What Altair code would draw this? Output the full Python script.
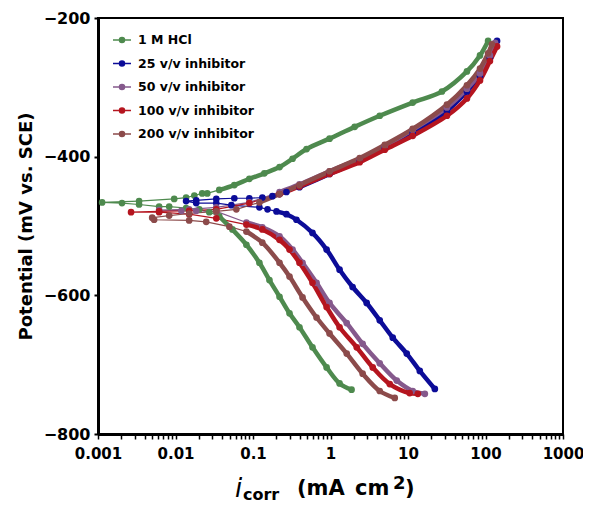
import altair as alt
import pandas as pd

series = ["1 M HCl", "25 v/v inhibitor", "50 v/v inhibitor", "100 v/v inhibitor", "200 v/v inhibitor"]
colors = ["#4E8A4E", "#0C0C98", "#85598C", "#B5151F", "#8C4B4B"]

x_major = [0.001, 0.01, 0.1, 1, 10, 100, 1000]
y_ticks = [-800, -600, -400, -200]

# cathodic branches: from the far end up to Ecorr (last value = Ecorr)
hcl_cat_i = [1.87, 1.31, 0.891, 0.586, 0.398, 0.296, 0.220, 0.163, 0.121, 0.0822, 0.0542, 0.0367, 0.0273, 0.0203, 0.0137, 0.00829, 0.00615, 0.00339, 0.00204, 0.00113]
hcl_cat_E = [-736, -727, -704, -675, -646, -626, -602, -578, -553, -527, -505, -486, -480, -476, -474, -472, -472, -469, -467, -466]
hcl_an_i = [0.00339, 0.00962, 0.0137, 0.0175, 0.0221, 0.0257, 0.0367, 0.0574, 0.0897, 0.140, 0.220, 0.324, 0.491, 0.972, 2.05, 4.32, 11.5, 27.4, 57.6, 84.9, 108]
hcl_an_E = [-464, -461, -459, -456, -453, -453, -448, -441, -432, -424, -415, -403, -389, -374, -357, -341, -322, -306, -277, -254, -233]

inh25_cat_i = [22.2, 14.2, 9.64, 6.36, 4.32, 2.93, 1.93, 1.31, 0.891, 0.586, 0.364, 0.270, 0.201, 0.154, 0.121, 0.0526, 0.0336, 0.0185, 0.0137]
inh25_cat_E = [-735, -709, -684, -661, -636, -611, -588, -563, -534, -510, -491, -483, -479, -476, -473, -470, -467, -467, -464]
inh25_an_i = [0.0185, 0.0336, 0.0574, 0.0897, 0.132, 0.178, 0.220, 0.270, 0.398, 0.972, 2.38, 5.01, 11.5, 31.8, 57.6, 84.9, 114, 141]
inh25_an_E = [-463, -461, -460, -460, -459, -457, -454, -451, -444, -425, -406, -387, -366, -334, -306, -284, -258, -233]

inh50_cat_i = [16.5, 11.5, 7.16, 4.32, 2.60, 1.62, 0.972, 0.661, 0.436, 0.324, 0.220, 0.132, 0.0822, 0.0336, 0.0185, 0.0119, 0.00615]
inh50_cat_E = [-742, -738, -723, -698, -670, -640, -611, -582, -553, -534, -515, -502, -495, -479, -478, -478, -477]
inh50_an_i = [0.0150, 0.0336, 0.0897, 0.220, 0.398, 0.972, 2.38, 5.01, 11.5, 31.8, 57.6, 84.9, 114, 133]
inh50_an_E = [-476, -473, -466, -451, -440, -421, -403, -385, -361, -329, -302, -280, -254, -236]

inh100_cat_i = [13.4, 10.5, 5.82, 3.51, 2.18, 1.31, 0.891, 0.586, 0.398, 0.296, 0.220, 0.132, 0.0822, 0.0336, 0.0150, 0.00615, 0.00267]
inh100_cat_E = [-742, -741, -728, -704, -675, -646, -617, -582, -553, -534, -520, -505, -498, -489, -483, -480, -480]
inh100_an_i = [0.00615, 0.0150, 0.0336, 0.0897, 0.220, 0.398, 0.972, 2.38, 5.01, 11.5, 31.8, 57.6, 84.9, 114, 141]
inh100_an_E = [-479, -478, -476, -467, -454, -443, -425, -408, -390, -370, -341, -316, -290, -262, -241]

inh200_cat_i = [6.75, 4.32, 2.60, 1.62, 0.972, 0.661, 0.436, 0.296, 0.220, 0.132, 0.0822, 0.0496, 0.0249, 0.0150, 0.00530, 0.00500]
inh200_cat_E = [-748, -738, -713, -684, -655, -632, -603, -573, -553, -524, -508, -501, -494, -492, -491, -488]
inh200_an_i = [0.00829, 0.0150, 0.0336, 0.0610, 0.121, 0.220, 0.398, 0.972, 2.38, 5.01, 11.5, 31.8, 57.6, 84.9, 108, 121]
inh200_an_E = [-485, -482, -479, -476, -466, -454, -441, -421, -402, -383, -360, -325, -297, -273, -251, -238]

branches = [
    (hcl_cat_i, hcl_cat_E, hcl_an_i, hcl_an_E),
    (inh25_cat_i, inh25_cat_E, inh25_an_i, inh25_an_E),
    (inh50_cat_i, inh50_cat_E, inh50_an_i, inh50_an_E),
    (inh100_cat_i, inh100_cat_E, inh100_an_i, inh100_an_E),
    (inh200_cat_i, inh200_cat_E, inh200_an_i, inh200_an_E),
]

rows = []
for name, (ci, cE, ai, aE) in zip(series, branches):
    ecorr = cE[-1]
    k = 0
    for i, e in zip(ci, cE):
        rows.append(dict(series=name, i=i, E=e, order=k, branch=name + "_c", thick=abs(e - ecorr) >= 15))
        k += 1
    for i, e in zip(ai, aE):
        rows.append(dict(series=name, i=i, E=e, order=k, branch=name + "_a", thick=abs(e - ecorr) >= 15))
        k += 1
df = pd.DataFrame(rows)

minor_vals = [m * 10 ** k for k in range(-3, 3) for m in range(1, 10)] + [1000]

legend = alt.Legend(
    title=None, orient="none", legendX=14, legendY=12,
    labelFont="DejaVu Sans", labelFontWeight="bold", labelFontSize=12.5, labelColor="black",
    symbolType="M-1,0H1M0.28,0A0.28,0.28,0,1,1,-0.28,0A0.28,0.28,0,1,1,0.28,0Z",
    symbolSize=324, symbolStrokeWidth=1.5, rowPadding=6.5, labelOffset=6, padding=0,
)

x_enc = alt.X("i:Q", scale=alt.Scale(type="log", domain=[0.001, 1000]),
              axis=alt.Axis(values=minor_vals, format="~g",
                            labelExpr="abs(log(datum.value)/LN10 - round(log(datum.value)/LN10)) < 0.001 ? datum.label : ''",
                            labelOverlap=False, labelFlush=False, tickSize=5, tickWidth=1.5,
                            labelFontSize=15, labelPadding=7, domainWidth=3, title=None))
y_enc = alt.Y("E:Q", scale=alt.Scale(domain=[-800, -200]),
              axis=alt.Axis(values=y_ticks, format="d", tickSize=4, tickWidth=2, labelFontSize=16,
                            labelPadding=4, domainWidth=3, title="Potential (mV vs. SCE)",
                            titleFont="DejaVu Sans", titleFontWeight="bold", titleFontSize=18,
                            titlePadding=8))
col_scale = alt.Scale(domain=series, range=colors)
color_enc = alt.Color("series:N", scale=col_scale, legend=legend, sort=series)

base = alt.Chart(df)
thin = base.mark_line(strokeWidth=1.2).encode(x=x_enc, y=y_enc, color=color_enc, detail="series:N", order="order:Q")
thick = base.transform_filter("datum.thick").mark_line(strokeWidth=4.5, interpolate="catmull-rom").encode(
    x=x_enc, y=y_enc, color=color_enc, detail="branch:N", order="order:Q")
pts = base.mark_circle(size=22, opacity=1).encode(
    x=x_enc, y=y_enc, color=color_enc,
    stroke=alt.Stroke("series:N", scale=col_scale, legend=legend, sort=series))


def label(txt, px, py, size, weight="bold", style="normal"):
    return alt.Chart(pd.DataFrame({"t": [txt]})).mark_text(
        text=txt, align="left", baseline="alphabetic", font="DejaVu Sans",
        fontSize=size, fontWeight=weight, fontStyle=style, color="black"
    ).encode(x=alt.value(px), y=alt.value(py))


t_i = label("i", 137, 479, 26, weight="normal", style="italic")
t_corr = label("corr", 145, 482, 16)
t_ma = label("(mA", 199, 477, 21)
t_cm = label("cm", 257, 477, 21)
t_sq = label("2", 295, 471, 18)
t_par = label(")", 307, 477, 21)

chart = alt.layer(thin, thick, pts, t_i, t_corr, t_ma, t_cm, t_sq, t_par).properties(
    width=465, height=416,
    autosize=alt.AutoSizeParams(type="none"),
    padding={"left": 90, "top": 10, "right": 20, "bottom": 70},
).configure_view(stroke="black", strokeWidth=2).configure_axis(
    domainColor="black", tickColor="black", labelColor="black", titleColor="black", grid=False,
    labelFont="DejaVu Sans", labelFontWeight="bold",
)

chart.save("out.html", embed_options={"renderer": "svg", "actions": False})
